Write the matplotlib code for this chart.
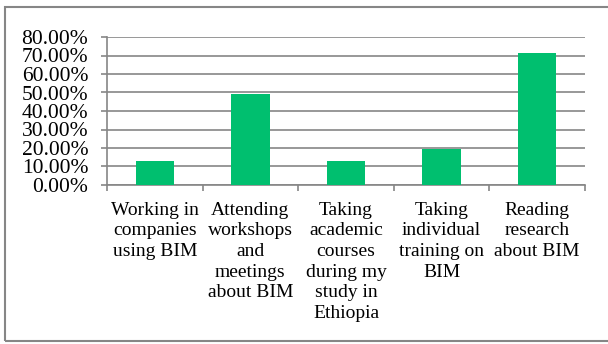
import matplotlib.pyplot as plt
from matplotlib.patches import Rectangle
from matplotlib.ticker import PercentFormatter, FixedLocator

plt.rcParams['font.family'] = ['Liberation Serif', 'DejaVu Serif']

# data
categories = [
    "Working in\ncompanies\nusing BIM",
    "Attending\nworkshops\nand\nmeetings\nabout BIM",
    "Taking\nacademic\ncourses\nduring my\nstudy in\nEthiopia",
    "Taking\nindividual\ntraining on\nBIM",
    "Reading\nresearch\nabout BIM",
]
values = [13.0, 49.3, 13.0, 19.2, 71.2]

grey = '#868686'
green = '#00BF6F'

fig = plt.figure(figsize=(6.08, 3.44), dpi=100)
ax = fig.add_axes([107/608, 1-185/344, 478/608, 148/344])

x = list(range(len(categories)))
ax.bar(x, values, width=0.4, color=green, zorder=3)

ax.set_xlim(-0.5, len(categories) - 0.5)
ax.set_ylim(0, 80)
ax.set_yticks(range(0, 81, 10))
ax.yaxis.set_major_formatter(PercentFormatter(decimals=2))
ax.grid(axis='y', color=grey, lw=1.2, zorder=0)

# category boundaries as major ticks, labels on minor ticks
ax.xaxis.set_major_locator(FixedLocator([i - 0.5 for i in range(len(categories) + 1)]))
ax.set_xticklabels([])
ax.set_xticks(x, minor=True)
ax.set_xticklabels(categories, minor=True, fontsize=14, linespacing=1.28)
ax.tick_params(axis='x', which='minor', length=0, pad=12)
ax.tick_params(axis='x', which='major', length=4.5, color=grey, width=1.2, direction='out')
ax.tick_params(axis='y', length=4.5, color=grey, width=1.2, pad=9, labelsize=15.5)

for s in ['top', 'right']:
    ax.spines[s].set_visible(False)
for s in ['left', 'bottom']:
    ax.spines[s].set_color(grey)
    ax.spines[s].set_linewidth(1.2)

# outer frame of the chart area
fig.add_artist(Rectangle((5/608, 1-341/344), 1.0, 334/344, transform=fig.transFigure,
                         fill=False, edgecolor=grey, lw=1.5, clip_on=False))

fig.savefig('out.png', dpi=100)
